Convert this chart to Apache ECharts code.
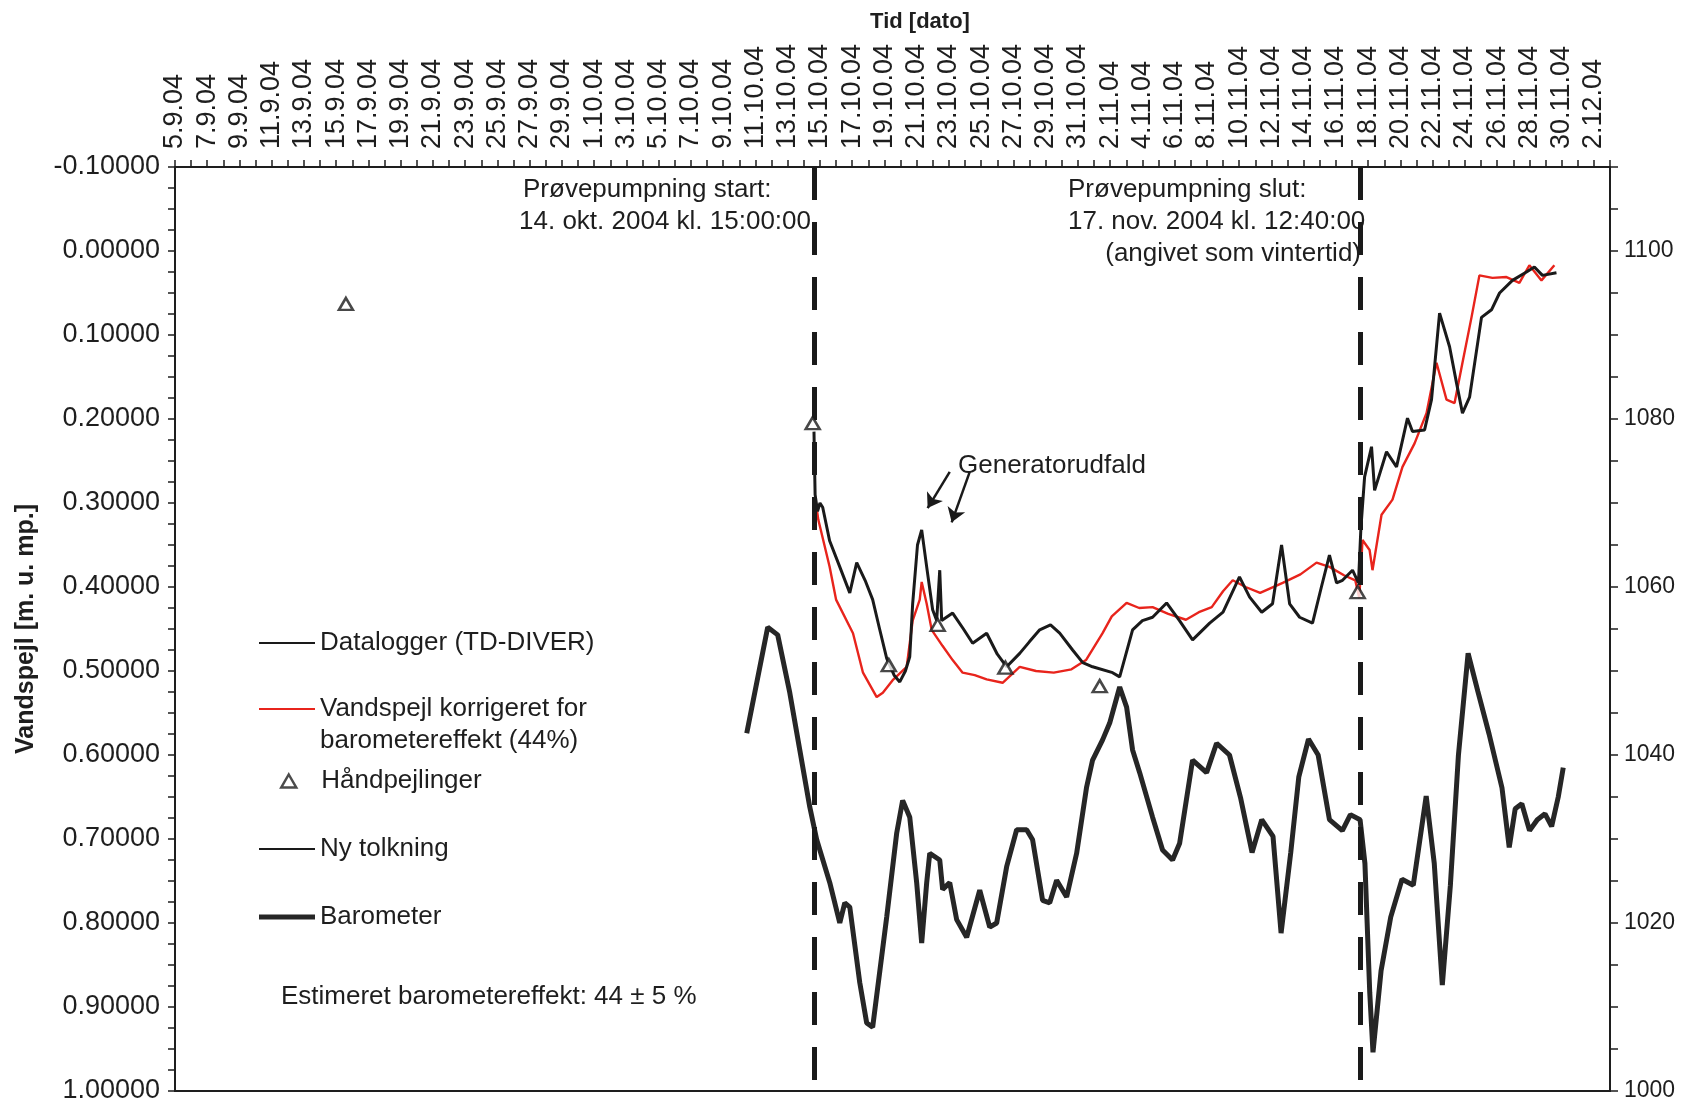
<!DOCTYPE html>
<html><head><meta charset="utf-8">
<script src="https://cdn.jsdelivr.net/npm/echarts@6/dist/echarts.min.js"></script>
<style>html,body{margin:0;padding:0;background:#fff}#c{width:1692px;height:1111px}</style>
</head><body><div id="c"></div>
<script>
// x values: days since 5.9.04 00:00
const START_DATE = Date.UTC(2004, 8, 5);
const pumpStartDay = 39.625;   // 14. okt. 2004 kl. 15:00
const pumpEndDay = 73.528;     // 17. nov. 2004 kl. 12:40

const dataloggerDays = [39.63,39.70,39.85,40.00,40.17,40.60,41.23,41.85,42.28,42.80,43.27,43.70,44.14,44.60,44.95,45.30,45.57,45.75,46.05,46.31,46.62,46.99,47.24,47.43,47.55,48.23,48.90,49.47,50.34,51.00,51.58,52.39,53.00,53.63,54.30,54.87,55.67,56.30,56.91,58.15,58.59,59.39,60.00,60.63,61.50,62.30,63.11,64.17,65.00,66.02,66.65,67.40,68.07,68.63,69.13,69.75,70.55,71.10,71.60,72.04,72.41,73.03,73.40,73.55,73.78,74.21,74.40,75.14,75.76,76.44,76.75,77.50,77.93,78.43,79.05,79.48,79.85,80.29,81.03,81.65,82.15,82.95,83.82,84.31,84.81,85.68];
const dataloggerLevel = [0.215,0.290,0.310,0.300,0.305,0.345,0.376,0.407,0.371,0.392,0.415,0.450,0.485,0.505,0.513,0.500,0.483,0.420,0.350,0.332,0.376,0.427,0.440,0.380,0.440,0.431,0.450,0.467,0.455,0.480,0.495,0.479,0.465,0.451,0.445,0.455,0.475,0.490,0.495,0.502,0.507,0.451,0.440,0.436,0.419,0.440,0.463,0.443,0.430,0.388,0.412,0.430,0.420,0.350,0.420,0.436,0.443,0.400,0.362,0.395,0.392,0.380,0.395,0.330,0.269,0.233,0.285,0.239,0.257,0.199,0.215,0.213,0.177,0.074,0.114,0.157,0.193,0.174,0.079,0.070,0.050,0.035,0.025,0.019,0.029,0.026];

const korrigeretDays = [39.75,39.90,40.60,41.00,42.05,42.67,43.52,43.90,44.51,45.38,45.75,46.19,46.31,46.62,46.93,47.60,48.23,48.85,49.60,50.34,51.33,52.39,53.40,54.50,55.60,56.50,57.53,58.10,59.02,59.80,60.63,61.60,62.70,63.50,64.30,65.00,65.60,66.40,67.30,68.70,69.80,70.80,71.60,72.50,73.20,73.45,73.65,74.09,74.27,74.83,75.51,76.13,76.88,77.62,78.24,78.86,79.36,79.85,80.41,80.90,81.71,82.58,83.38,84.00,84.75,85.55];
const korrigeretLevel = [0.300,0.320,0.376,0.415,0.455,0.502,0.531,0.526,0.511,0.495,0.440,0.415,0.394,0.420,0.451,0.470,0.487,0.502,0.505,0.510,0.514,0.495,0.500,0.502,0.498,0.487,0.455,0.435,0.419,0.425,0.424,0.432,0.439,0.430,0.424,0.405,0.392,0.400,0.407,0.395,0.385,0.371,0.376,0.386,0.392,0.413,0.344,0.356,0.380,0.314,0.296,0.257,0.229,0.193,0.133,0.177,0.181,0.133,0.079,0.029,0.032,0.031,0.038,0.017,0.035,0.017];

const haandDays = [10.60,39.55,44.27,47.30,51.50,57.35,73.35];
const haandLevel = [0.063,0.205,0.493,0.445,0.496,0.518,0.406];

const barometerDays = [35.46,36.76,37.38,38.13,38.75,39.37,39.80,40.61,41.23,41.54,41.85,42.47,42.90,43.27,44.14,44.76,45.13,45.57,46.00,46.31,46.62,46.81,47.43,47.61,48.05,48.48,49.10,49.91,50.53,50.96,51.58,52.20,52.82,53.19,53.81,54.25,54.68,55.30,55.92,56.54,56.91,57.53,57.97,58.59,59.02,59.39,59.83,60.63,61.25,61.87,62.31,63.11,63.98,64.60,65.40,66.10,66.80,67.40,68.10,68.60,69.20,69.70,70.30,70.90,71.60,72.40,72.90,73.50,73.80,74.10,74.30,74.80,75.40,76.10,76.80,77.60,78.10,78.60,79.10,79.60,80.20,80.80,81.50,82.30,82.75,83.12,83.53,84.01,84.49,84.97,85.38,85.79,86.10];
const barometerHpa = [1042.6,1055.2,1054.3,1047.4,1040.6,1033.8,1029.9,1024.8,1020.0,1022.4,1021.9,1012.9,1008.1,1007.6,1020.7,1030.7,1034.6,1032.6,1024.8,1017.6,1024.8,1028.3,1027.5,1024.0,1024.8,1020.4,1018.3,1023.9,1019.5,1020.0,1026.7,1031.1,1031.1,1029.9,1022.7,1022.4,1025.1,1023.1,1028.3,1036.2,1039.4,1041.8,1043.8,1048.1,1045.7,1040.6,1037.9,1032.6,1028.7,1027.5,1029.5,1039.4,1037.9,1041.4,1040.0,1034.8,1028.4,1032.3,1030.3,1018.8,1028.4,1037.4,1041.9,1040.0,1032.3,1031.0,1032.9,1032.3,1027.1,1011.7,1004.6,1014.3,1020.7,1025.2,1024.5,1035.1,1027.1,1012.6,1024.5,1040.0,1052.1,1047.6,1042.5,1036.1,1029.0,1033.6,1034.2,1031.0,1032.3,1033.0,1031.5,1035.0,1038.5];

const dateTickLabels = (function(){ const a=[]; for(let d=0; d<=88; d+=2){ const t=new Date(START_DATE+d*86400000); a.push(t.getUTCDate()+'.'+(t.getUTCMonth()+1)+'.04'); } return a; })();

const zip = (xs, ys) => xs.map((x, i) => [x, ys[i]]);
const FONT = '"Liberation Sans", Arial, sans-serif';
const INK = '#1e1e1e';

const chart = echarts.init(document.getElementById('c'), null, {renderer: 'canvas'});

function legendBox(name, top, extra) {
  return Object.assign({
    data: [{name: name}], orient: 'vertical', left: 259, top: top, padding: 0,
    itemWidth: 56, itemHeight: 2, itemGap: 0, icon: 'rect', selectedMode: false,
    itemStyle: {borderWidth: 0},
    textStyle: {fontFamily: FONT, fontSize: 26, color: INK, lineHeight: 30}
  }, extra || {});
}

const option = {
  animation: false,
  backgroundColor: '#ffffff',
  textStyle: {fontFamily: FONT, color: INK},
  grid: {left: 175, right: 82, top: 167, bottom: 20, show: true, borderColor: INK, borderWidth: 2, containLabel: false, outerBoundsMode: 'none'},
  xAxis: {
    type: 'value', position: 'top', min: 0, max: 89, interval: 1,
    axisLine: {show: true, onZero: false, lineStyle: {color: INK, width: 2}},
    axisTick: {show: true, length: 7, lineStyle: {color: INK, width: 1.5}},
    splitLine: {show: false},
    axisLabel: {
      rotate: -90, margin: 18, fontSize: 27, color: INK, fontFamily: FONT,
      formatter: function (v) { const d = Math.round(v); return (d % 2 === 0) ? dateTickLabels[d / 2] || '' : ''; }
    },
    name: 'Tid [dato]', nameLocation: 'middle', nameGap: 134,
    nameTextStyle: {fontWeight: 'bold', fontSize: 22, color: INK, fontFamily: FONT, padding: [0, 0, 0, 55]}
  },
  yAxis: [{
    type: 'value', position: 'left', inverse: true, min: -0.1, max: 1.0, interval: 0.025,
    axisLine: {show: true, onZero: false, lineStyle: {color: INK, width: 2}},
    axisTick: {show: true, length: 7, lineStyle: {color: INK, width: 1.5}},
    splitLine: {show: false},
    axisLabel: {
      margin: 15, fontSize: 27, color: INK, fontFamily: FONT,
      formatter: function (v) { const k = v * 10; if (Math.abs(k - Math.round(k)) > 1e-6) return ''; let r = Math.round(k) / 10; if (Math.abs(r) < 1e-9) r = 0; return r.toFixed(5); }
    },
    name: 'Vandspejl [m. u. mp.]', nameLocation: 'middle', nameRotate: 90, nameGap: 136,
    nameTextStyle: {fontWeight: 'bold', fontSize: 25, color: INK, fontFamily: FONT}
  }, {
    type: 'value', position: 'right', min: 1000, max: 1110, interval: 5,
    axisLine: {show: true, onZero: false, lineStyle: {color: INK, width: 2}},
    axisTick: {show: true, length: 8, lineStyle: {color: INK, width: 1.5}},
    splitLine: {show: false},
    axisLabel: {
      margin: 14, fontSize: 23, color: INK, fontFamily: FONT,
      formatter: function (v) { return (Math.round(v) % 20 === 0 && v <= 1100) ? String(Math.round(v)) : ''; }
    }
  }],
  legend: [
    legendBox('Datalogger (TD-DIVER)', 628),
    legendBox('Vandspejl korrigeret for\nbarometereffekt (44%)', 661, {
      formatter: function (n) { return ' \n' + n; },
      textStyle: {fontFamily: FONT, fontSize: 26, color: INK, lineHeight: 32}
    }),
    legendBox('Håndpejlinger', 766, {
      left: 280, icon: 'triangle', itemWidth: 15, itemHeight: 13,
      itemStyle: {color: '#fff', borderColor: INK, borderWidth: 2.5},
      textStyle: {fontFamily: FONT, fontSize: 26, color: INK, lineHeight: 30, padding: [0, 0, 0, 20]}
    }),
    legendBox('Ny tolkning', 834),
    legendBox('Barometer', 902, {itemHeight: 5})
  ],
  graphic: [
    {type: 'text', x: 523, y: 190, style: {text: 'Prøvepumpning start:', fontSize: 26, fontFamily: FONT, fill: INK, align: 'left', verticalAlign: 'middle'}},
    {type: 'text', x: 811, y: 222, style: {text: '14. okt. 2004 kl. 15:00:00', fontSize: 26, fontFamily: FONT, fill: INK, align: 'right', verticalAlign: 'middle'}},
    {type: 'text', x: 1068, y: 190, style: {text: 'Prøvepumpning slut:', fontSize: 26, fontFamily: FONT, fill: INK, align: 'left', verticalAlign: 'middle'}},
    {type: 'text', x: 1068, y: 222, style: {text: '17. nov. 2004 kl. 12:40:00', fontSize: 26, fontFamily: FONT, fill: INK, align: 'left', verticalAlign: 'middle'}},
    {type: 'text', x: 1361, y: 254, style: {text: '(angivet som vintertid)', fontSize: 26, fontFamily: FONT, fill: INK, align: 'right', verticalAlign: 'middle'}},
    {type: 'text', x: 958, y: 466, style: {text: 'Generatorudfald', fontSize: 26, fontFamily: FONT, fill: INK, align: 'left', verticalAlign: 'middle'}},
    {type: 'text', x: 281, y: 997, style: {text: 'Estimeret barometereffekt: 44 ± 5 %', fontSize: 26, fontFamily: FONT, fill: INK, align: 'left', verticalAlign: 'middle'}}
  ],
  series: [
    {
      name: 'Barometer', type: 'line', yAxisIndex: 1, symbol: 'none', z: 2,
      lineStyle: {color: '#262626', width: 5}, itemStyle: {color: '#262626'},
      data: zip(barometerDays, barometerHpa)
    },
    {
      name: 'Vandspejl korrigeret for\nbarometereffekt (44%)', type: 'line', symbol: 'none', z: 3,
      lineStyle: {color: '#e8241c', width: 2.4}, itemStyle: {color: '#e8241c'},
      data: zip(korrigeretDays, korrigeretLevel)
    },
    {
      name: 'Datalogger (TD-DIVER)', type: 'line', symbol: 'none', z: 4,
      lineStyle: {color: '#1a1a1a', width: 3}, itemStyle: {color: '#1a1a1a'},
      data: zip(dataloggerDays, dataloggerLevel),
      markLine: {
        silent: true, symbol: ['none', 'none'], label: {show: false},
        lineStyle: {color: '#1a1a1a', width: 5, type: [33, 22]},
        emphasis: {disabled: true},
        data: [
          {xAxis: pumpStartDay},
          {xAxis: pumpEndDay},
          [{coord: [48.05, 0.263], symbol: 'none', lineStyle: {type: 'solid', width: 2.5, color: '#1a1a1a'}},
           {coord: [46.68, 0.306], symbol: 'arrow', symbolSize: 14, lineStyle: {type: 'solid', width: 2.5, color: '#1a1a1a'}}],
          [{coord: [49.29, 0.263], symbol: 'none', lineStyle: {type: 'solid', width: 2.5, color: '#1a1a1a'}},
           {coord: [48.17, 0.323], symbol: 'arrow', symbolSize: 14, lineStyle: {type: 'solid', width: 2.5, color: '#1a1a1a'}}]
        ]
      }
    },
    {
      name: 'Ny tolkning', type: 'line', symbol: 'none', z: 4,
      lineStyle: {color: '#1a1a1a', width: 1.5}, itemStyle: {color: '#1a1a1a'},
      data: []
    },
    {
      name: 'Håndpejlinger', type: 'scatter', symbol: 'triangle', symbolSize: [14, 12], z: 6,
      itemStyle: {color: '#ffffff', borderColor: '#1a1a1a', borderWidth: 2.5},
      data: zip(haandDays, haandLevel)
    }
  ]
};
chart.setOption(option);
</script>
</body></html>
